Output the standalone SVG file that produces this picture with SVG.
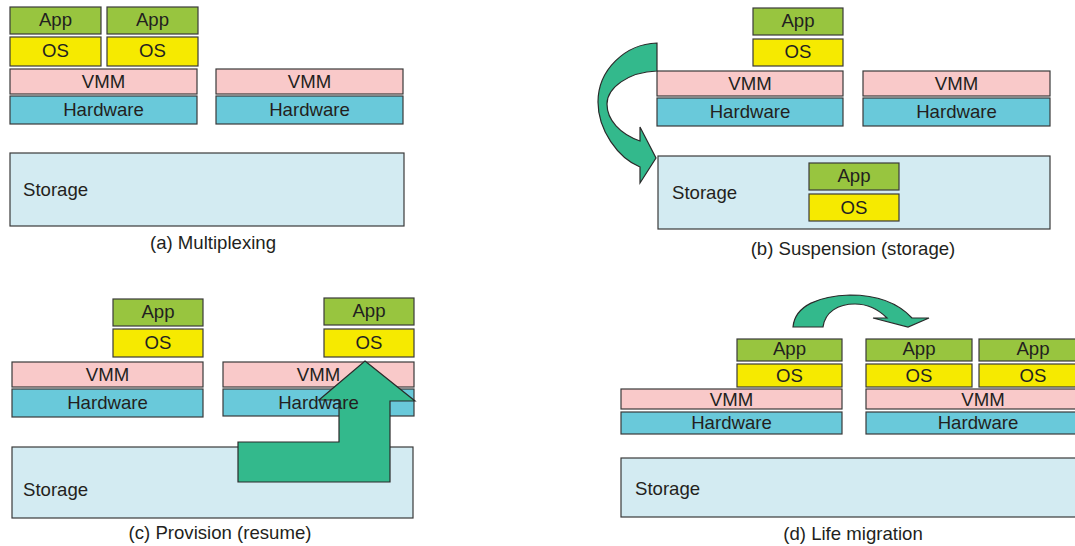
<svg xmlns="http://www.w3.org/2000/svg" width="1075" height="546" viewBox="0 0 1075 546">
<style>
rect{stroke:#3a3a3a;stroke-width:1.2}
.app{fill:#98c53f}
.os{fill:#f6ea00}
.vmm{fill:#f9c9c9}
.hw{fill:#69c9da}
.st{fill:#d3ebf2}
text{font-family:"Liberation Sans",Arial,sans-serif;font-size:18.6px;fill:#231f20}
.c{text-anchor:middle}
.arrow{fill:#33b98c;stroke:#2a2a2a;stroke-width:1.2;stroke-linejoin:miter}
</style>
<rect x="0" y="0" width="1075" height="546" style="fill:#fff;stroke:none"/>

<!-- Panel (a) -->
<g id="a-app1"><rect class="app" x="10" y="7" width="91" height="27"/><text class="c" x="55.5" y="26">App</text></g>
<g id="a-os1"><rect class="os" x="10" y="37" width="91" height="29"/><text class="c" x="55.5" y="57">OS</text></g>
<g id="a-app2"><rect class="app" x="107" y="7" width="91" height="27"/><text class="c" x="152.5" y="26">App</text></g>
<g id="a-os2"><rect class="os" x="107" y="37" width="91" height="29"/><text class="c" x="152.5" y="57">OS</text></g>
<g id="a-vmm1"><rect class="vmm" x="10" y="69" width="187" height="25"/><text class="c" x="103.5" y="87.5">VMM</text></g>
<g id="a-hw1"><rect class="hw" x="10" y="96" width="187" height="28"/><text class="c" x="103.5" y="115.5">Hardware</text></g>
<g id="a-vmm2"><rect class="vmm" x="216" y="69" width="187" height="25"/><text class="c" x="309.5" y="87.5">VMM</text></g>
<g id="a-hw2"><rect class="hw" x="216" y="96" width="187" height="28"/><text class="c" x="309.5" y="115.5">Hardware</text></g>
<g id="a-storage"><rect class="st" x="10" y="153" width="394" height="73"/><text x="23" y="196">Storage</text></g>
<text id="a-caption" class="c" x="213" y="249">(a) Multiplexing</text>

<!-- Panel (b) -->
<g id="b-app"><rect class="app" x="753" y="8" width="90" height="27"/><text class="c" x="798" y="27">App</text></g>
<g id="b-os"><rect class="os" x="753" y="39" width="90" height="27"/><text class="c" x="798" y="58">OS</text></g>
<g id="b-vmm1"><rect class="vmm" x="657" y="71" width="186" height="25"/><text class="c" x="750" y="89.5">VMM</text></g>
<g id="b-hw1"><rect class="hw" x="657" y="98" width="186" height="28"/><text class="c" x="750" y="117.5">Hardware</text></g>
<g id="b-vmm2"><rect class="vmm" x="863" y="71" width="187" height="25"/><text class="c" x="956.5" y="89.5">VMM</text></g>
<g id="b-hw2"><rect class="hw" x="863" y="98" width="187" height="28"/><text class="c" x="956.5" y="117.5">Hardware</text></g>
<g id="b-storage"><rect class="st" x="658" y="156" width="392" height="73"/><text x="672" y="199">Storage</text></g>
<g id="b-app-stored"><rect class="app" x="809" y="163" width="90" height="27"/><text class="c" x="854" y="182">App</text></g>
<g id="b-os-stored"><rect class="os" x="809" y="194" width="90" height="27"/><text class="c" x="854" y="213.5">OS</text></g>
<text id="b-caption" class="c" x="853" y="255">(b) Suspension (storage)</text>

<!-- Panel (c) -->
<g id="c-app1"><rect class="app" x="113" y="299" width="90" height="27"/><text class="c" x="158" y="318">App</text></g>
<g id="c-os1"><rect class="os" x="113" y="329" width="90" height="28"/><text class="c" x="158" y="348.5">OS</text></g>
<g id="c-vmm1"><rect class="vmm" x="12" y="362" width="191" height="25"/><text class="c" x="107.5" y="380.5">VMM</text></g>
<g id="c-hw1"><rect class="hw" x="12" y="389" width="191" height="28"/><text class="c" x="107.5" y="409">Hardware</text></g>
<g id="c-app2"><rect class="app" x="324" y="298" width="90" height="27"/><text class="c" x="369" y="317">App</text></g>
<g id="c-os2"><rect class="os" x="324" y="329" width="90" height="28"/><text class="c" x="369" y="348.5">OS</text></g>
<g id="c-vmm2"><rect class="vmm" x="223" y="362" width="191" height="25"/></g>
<g id="c-hw2"><rect class="hw" x="223" y="389" width="191" height="27"/></g>
<g id="c-storage"><rect class="st" x="12" y="447" width="401" height="71"/><text x="23" y="496">Storage</text></g>
<text id="c-caption" class="c" x="220" y="539">(c) Provision (resume)</text>

<!-- Panel (d) -->
<g id="d-app1"><rect class="app" x="737" y="339" width="105" height="22"/><text class="c" x="789.5" y="355">App</text></g>
<g id="d-os1"><rect class="os" x="737" y="364" width="105" height="23"/><text class="c" x="789.5" y="381.5">OS</text></g>
<g id="d-vmm1"><rect class="vmm" x="621" y="389" width="221" height="20"/><text class="c" x="731.5" y="406">VMM</text></g>
<g id="d-hw1"><rect class="hw" x="621" y="412" width="221" height="22"/><text class="c" x="731.5" y="429">Hardware</text></g>
<g id="d-app2"><rect class="app" x="866" y="339" width="106" height="22"/><text class="c" x="919" y="355">App</text></g>
<g id="d-os2"><rect class="os" x="866" y="364" width="106" height="23"/><text class="c" x="919" y="381.5">OS</text></g>
<g id="d-app3"><rect class="app" x="979" y="339" width="106" height="22"/><text class="c" x="1033" y="355">App</text></g>
<g id="d-os3"><rect class="os" x="979" y="364" width="106" height="23"/><text class="c" x="1033" y="381.5">OS</text></g>
<g id="d-vmm2"><rect class="vmm" x="866" y="389" width="234" height="20"/><text class="c" x="983" y="406">VMM</text></g>
<g id="d-hw2"><rect class="hw" x="866" y="412" width="234" height="22"/><text class="c" x="978" y="429">Hardware</text></g>
<g id="d-storage"><rect class="st" x="621" y="458" width="470" height="59"/><text x="635" y="495">Storage</text></g>
<text id="d-caption" class="c" x="853" y="540">(d) Life migration</text>

<!-- Connectors -->
<g id="connectors">
<path id="arrow-suspend" class="arrow" d="M657,43 C625,44 598,70 598,102 C598,130 618,158 640,167 L640,183 L656,158 L640,127 L640,141 C620,134 607,120 607,104 C607,88 628,72 657,71 Z"/>
<polygon id="arrow-provision" class="arrow" points="365,361 415,401 390,401 390,482 238,482 238,442 339,442 339,400 319,400"/>
<path id="arrow-migrate" class="arrow" d="M793,327 C795,305 820,296 850,295 C880,295 900,305 912,318 L929,318 L908,327 L873,318 L887,318 C878,309 868,304 855,304 C838,304 825,312 823,327 Z"/>
</g>

<g id="c-vmm2-label"><text class="c" x="318.5" y="380.5">VMM</text></g>
<g id="c-hw2-label"><text class="c" x="318.5" y="409">Hardware</text></g>
</svg>
